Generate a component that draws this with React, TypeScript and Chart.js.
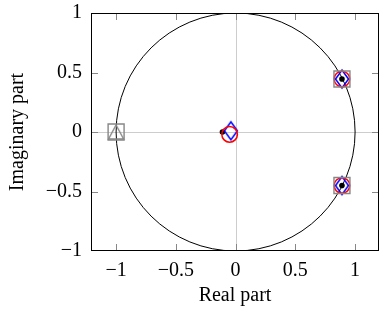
import React, { useEffect, useRef } from 'react';
import { Chart, registerables } from 'chart.js';

Chart.register(...registerables);

// Tick values
const xTicks = [-1, -0.5, 0, 0.5, 1];
const yTicks = [-1, -0.5, 0, 0.5, 1];

// Series (real / imaginary parts)
const squareRe = [0.89, 0.89];
const squareIm = [0.445, -0.45];
const triangleRe = [-1];
const triangleIm = [0];
const circleRe = [-0.05, 0.89, 0.89];
const circleIm = [-0.02, 0.445, -0.45];
const diamondRe = [-0.04, 0.89, 0.89];
const diamondIm = [0.01, 0.445, -0.45];
const dotRe = [-0.11, 0.89, 0.89];
const dotIm = [0, 0.445, -0.45];

const GRAY = 'rgb(135,135,135)';
const FONT = "'Liberation Serif', 'Times New Roman', serif";

function pts(re: number[], im: number[]) {
  return re.map((x, i) => ({ x, y: im[i] }));
}

function makeTriangle() {
  const c = document.createElement('canvas');
  c.width = 20;
  c.height = 20;
  const g = c.getContext('2d')!;
  g.strokeStyle = GRAY;
  g.lineWidth = 1.4;
  g.beginPath();
  g.moveTo(10, 3);
  g.lineTo(17.5, 17);
  g.lineTo(2.5, 17);
  g.closePath();
  g.stroke();
  return c;
}

function makeDiamond() {
  const c = document.createElement('canvas');
  c.width = 18;
  c.height = 22;
  const g = c.getContext('2d')!;
  g.strokeStyle = 'rgb(0,0,255)';
  g.lineWidth = 1.5;
  g.beginPath();
  g.moveTo(9, 2);
  g.lineTo(15.5, 11);
  g.lineTo(9, 20);
  g.lineTo(2.5, 11);
  g.closePath();
  g.stroke();
  return c;
}

const framePlugin = {
  id: 'frame',
  beforeDatasetsDraw(chart: any) {
    const { ctx, chartArea: a, scales } = chart;
    const xs = scales.x;
    const ys = scales.y;
    ctx.save();
    ctx.beginPath();
    ctx.rect(a.left, a.top, a.right - a.left, a.bottom - a.top);
    ctx.clip();
    // zero lines
    ctx.strokeStyle = 'rgb(205,205,205)';
    ctx.lineWidth = 1;
    const x0 = Math.round(xs.getPixelForValue(0)) + 0.5;
    const y0 = Math.round(ys.getPixelForValue(0)) + 0.5;
    ctx.beginPath();
    ctx.moveTo(x0, a.top);
    ctx.lineTo(x0, a.bottom);
    ctx.moveTo(a.left, y0);
    ctx.lineTo(a.right, y0);
    ctx.stroke();
    // tick marks inside, all sides
    ctx.strokeStyle = GRAY;
    const tl = 7;
    ctx.beginPath();
    xs.ticks.forEach((t: any) => {
      const px = Math.round(xs.getPixelForValue(t.value)) + 0.5;
      ctx.moveTo(px, a.bottom);
      ctx.lineTo(px, a.bottom - tl);
      ctx.moveTo(px, a.top);
      ctx.lineTo(px, a.top + tl);
    });
    ys.ticks.forEach((t: any) => {
      const py = Math.round(ys.getPixelForValue(t.value)) + 0.5;
      ctx.moveTo(a.left, py);
      ctx.lineTo(a.left + tl, py);
      ctx.moveTo(a.right, py);
      ctx.lineTo(a.right - tl, py);
    });
    ctx.stroke();
    // unit circle
    const cx = xs.getPixelForValue(0);
    const cy = ys.getPixelForValue(0);
    const rx = xs.getPixelForValue(1) - cx;
    const ry = cy - ys.getPixelForValue(1);
    ctx.strokeStyle = '#000';
    ctx.lineWidth = 1;
    ctx.beginPath();
    ctx.ellipse(cx, cy, rx, ry, 0, 0, Math.PI * 2);
    ctx.stroke();
    ctx.restore();
  },
  afterDatasetsDraw(chart: any) {
    const { ctx, chartArea: a } = chart;
    ctx.save();
    ctx.strokeStyle = '#000';
    ctx.lineWidth = 1;
    ctx.strokeRect(Math.round(a.left) + 0.5, Math.round(a.top) + 0.5,
      Math.round(a.right - a.left) - 1, Math.round(a.bottom - a.top) - 1);
    ctx.restore();
  },
};

const fmt = (v: any) => String(v).replace('-', '\u2212');

export default function App() {
  const ref = useRef<HTMLCanvasElement>(null);
  useEffect(() => {
    document.body.style.margin = '0';
    const tri = makeTriangle();
    const dia = makeDiamond();
    const chart = new Chart(ref.current!, {
      type: 'scatter',
      data: {
        datasets: [
          {
            data: pts(squareRe, squareIm),
            pointStyle: 'rect',
            pointRadius: 11.3,
            pointBorderColor: GRAY,
            pointBackgroundColor: 'transparent',
            pointBorderWidth: 1.4,
          },
          {
            data: pts(triangleRe, triangleIm),
            pointStyle: 'rect',
            pointRadius: 11.3,
            pointBorderColor: GRAY,
            pointBackgroundColor: 'transparent',
            pointBorderWidth: 1.4,
          },
          {
            data: pts(triangleRe, triangleIm),
            pointStyle: tri as any,
            pointRadius: 10,
          },
          {
            data: pts(circleRe, circleIm),
            pointStyle: 'circle',
            pointRadius: 7.8,
            pointBorderColor: 'rgb(255,0,0)',
            pointBackgroundColor: 'transparent',
            pointBorderWidth: 1.5,
          },
          {
            data: pts(diamondRe, diamondIm),
            pointStyle: dia as any,
            pointRadius: 10,
          },
          {
            data: pts(dotRe, dotIm),
            pointStyle: 'circle',
            pointRadius: 2.8,
            pointBorderColor: '#000',
            pointBackgroundColor: '#000',
            pointBorderWidth: 0,
          },
        ],
      },
      options: {
        animation: false,
        responsive: false,
        events: [],
        layout: { autoPadding: false, padding: { top: 13, right: 3, left: 0, bottom: 0 } },
        plugins: { legend: { display: false }, tooltip: { enabled: false } },
        scales: {
          x: {
            type: 'linear',
            min: -1.21,
            max: 1.2,
            grid: { display: false, drawTicks: false },
            border: { display: false },
            afterBuildTicks: (s: any) => {
              s.ticks = xTicks.map((v) => ({ value: v }));
            },
            afterFit: (s: any) => {
              s.height = 64;
              s.paddingLeft = 0;
              s.paddingRight = 0;
            },
            ticks: {
              padding: 8,
              color: '#000',
              font: { family: FONT, size: 20 },
              callback: fmt,
              maxRotation: 0,
            },
            title: {
              display: true,
              text: 'Real part',
              color: '#000',
              font: { family: FONT, size: 20 },
              padding: { top: 0, bottom: 7 },
            },
          },
          y: {
            type: 'linear',
            min: -1,
            max: 1,
            grid: { display: false, drawTicks: false },
            border: { display: false },
            afterBuildTicks: (s: any) => {
              s.ticks = yTicks.map((v) => ({ value: v }));
            },
            afterFit: (s: any) => {
              s.width = 91;
              s.paddingTop = 0;
              s.paddingBottom = 0;
            },
            ticks: {
              padding: 9,
              color: '#000',
              font: { family: FONT, size: 20 },
              callback: fmt,
            },
            title: {
              display: true,
              text: 'Imaginary part',
              color: '#000',
              font: { family: FONT, size: 20 },
              padding: { top: 6, bottom: 0 },
            },
          },
        },
      },
      plugins: [framePlugin],
    });
    return () => chart.destroy();
  }, []);
  return (
    <div style={{ width: 382, height: 315 }}>
      <canvas ref={ref} width={382} height={315} />
    </div>
  );
}
